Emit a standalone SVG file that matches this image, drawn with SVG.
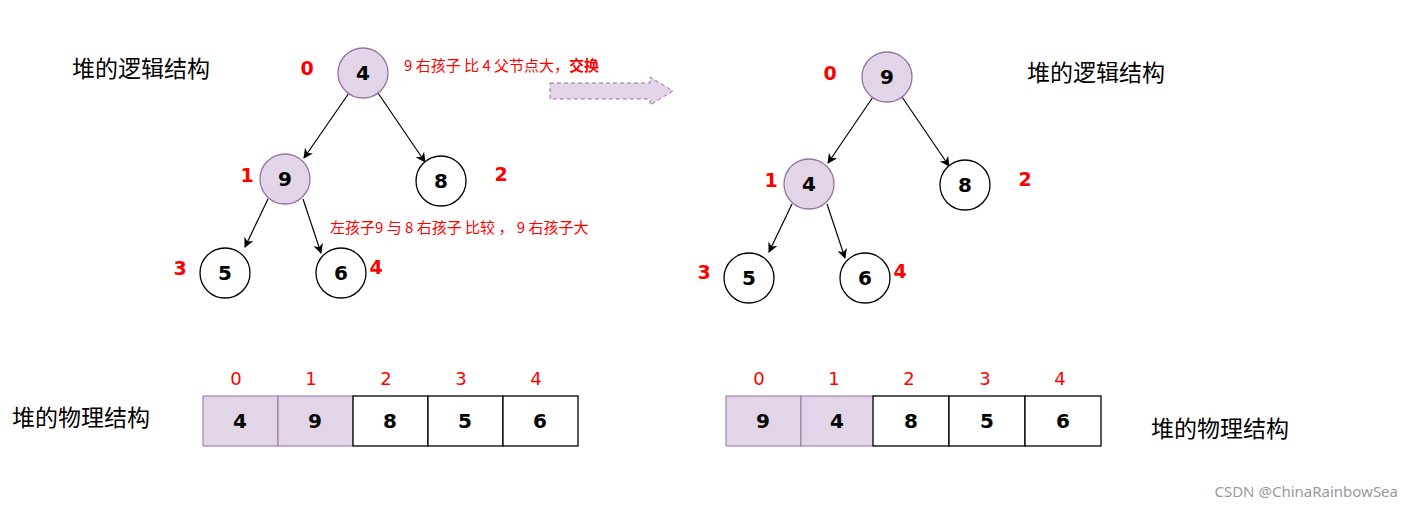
<svg xmlns="http://www.w3.org/2000/svg" width="1413" height="507" viewBox="0 0 1413 507">
<style>
.n{stroke:#000;stroke-width:1.3;fill:#fff}
.p{fill:#e1d5e7;stroke:#9673a6;stroke-width:1.3}
.v{font-family:"Comic Sans MS","DejaVu Sans",sans-serif;font-weight:bold;font-size:20px;text-anchor:middle;dominant-baseline:central;fill:#000}
.i{font-family:"DejaVu Sans",sans-serif;font-weight:bold;font-size:19px;fill:#f00;text-anchor:middle;dominant-baseline:central}
.a{font-family:"DejaVu Sans",sans-serif;font-size:18px;fill:#f00;text-anchor:middle;dominant-baseline:central}
.t{font-family:"Noto Sans CJK SC",sans-serif;font-size:23px;fill:#000}
.r{font-family:"Noto Sans CJK SC","DejaVu Sans",sans-serif;font-size:15px;fill:#f00}
.c{stroke:#000;stroke-width:1.2;fill:none;marker-end:url(#m)}
.cp{fill:#e1d5e7;stroke:#9673a6;stroke-width:1}
.cw{fill:#fff;stroke:#000;stroke-width:1.3}
</style>
<defs><marker id="m" markerWidth="10" markerHeight="10" refX="9" refY="5" orient="auto" markerUnits="userSpaceOnUse"><path d="M0,0 L10,5 L0,10 L3,5z" fill="#000"/></marker></defs>
<text class="t" x="72" y="77">堆的逻辑结构</text>
<text class="t" x="1027" y="81">堆的逻辑结构</text>
<text class="t" x="12" y="426">堆的物理结构</text>
<text class="t" x="1151" y="437">堆的物理结构</text>
<text class="r" x="404" y="71">9 右孩子 比 4 父节点大，<tspan font-weight="bold">交换</tspan></text>
<text class="r" x="330" y="233">左孩子9 与 8 右孩子 比较 ， 9 右孩子大</text>
<path d="M550,83 L650,83 L650,77 L673,91 L650,105 L650,99 L550,99Z" fill="#e1d5e7" stroke="#9673a6" stroke-dasharray="4 3"/>
<g id="connectors">
<line class="c" x1="349" y1="93" x2="304" y2="158"/>
<line class="c" x1="378" y1="93" x2="425" y2="162"/>
<line class="c" x1="268" y1="199" x2="245" y2="247"/>
<line class="c" x1="303" y1="199" x2="321" y2="253"/>
<line class="c" x1="873" y1="97" x2="828" y2="163"/>
<line class="c" x1="902" y1="97" x2="949" y2="166"/>
<line class="c" x1="792" y1="204" x2="769" y2="252"/>
<line class="c" x1="827" y1="204" x2="845" y2="258"/>
</g>
<g id="L0"><circle class="p" cx="363" cy="73" r="25"/><text class="v" x="363" y="73">4</text></g>
<g id="L1"><circle class="p" cx="285" cy="179" r="25"/><text class="v" x="285" y="179">9</text></g>
<g id="L2"><circle class="n" cx="441" cy="181" r="25"/><text class="v" x="441" y="181">8</text></g>
<g id="L3"><circle class="n" cx="225" cy="273" r="25"/><text class="v" x="225" y="273">5</text></g>
<g id="L4"><circle class="n" cx="341" cy="273" r="25"/><text class="v" x="341" y="273">6</text></g>
<g id="R0"><circle class="p" cx="887" cy="77" r="25"/><text class="v" x="887" y="77">9</text></g>
<g id="R1"><circle class="p" cx="809" cy="184" r="25"/><text class="v" x="809" y="184">4</text></g>
<g id="R2"><circle class="n" cx="965" cy="185" r="25"/><text class="v" x="965" y="185">8</text></g>
<g id="R3"><circle class="n" cx="749" cy="278" r="25"/><text class="v" x="749" y="278">5</text></g>
<g id="R4"><circle class="n" cx="865" cy="278" r="25"/><text class="v" x="865" y="278">6</text></g>
<text class="i" x="307" y="68">0</text><text class="i" x="247" y="175">1</text><text class="i" x="501" y="174">2</text><text class="i" x="180" y="268">3</text><text class="i" x="376" y="267">4</text>
<text class="i" x="830" y="73">0</text><text class="i" x="771" y="180">1</text><text class="i" x="1025" y="179">2</text><text class="i" x="704" y="272">3</text><text class="i" x="900" y="271">4</text>
<g id="arrL">
<rect class="cp" x="203" y="396" width="75" height="50"/><rect class="cp" x="278" y="396" width="75" height="50"/>
<rect class="cw" x="353" y="396" width="75" height="50"/><rect class="cw" x="428" y="396" width="75" height="50"/><rect class="cw" x="503" y="396" width="75" height="50"/>
<text class="v" x="240" y="421">4</text><text class="v" x="315" y="421">9</text><text class="v" x="390" y="421">8</text><text class="v" x="465" y="421">5</text><text class="v" x="540" y="421">6</text>
<text class="a" x="236" y="378">0</text><text class="a" x="311" y="378">1</text><text class="a" x="386" y="378">2</text><text class="a" x="461" y="378">3</text><text class="a" x="536" y="378">4</text>
</g>
<g id="arrR">
<rect class="cp" x="726" y="396" width="75" height="50"/><rect class="cp" x="801" y="396" width="75" height="50"/>
<rect class="cw" x="873" y="396" width="76" height="50"/><rect class="cw" x="949" y="396" width="76" height="50"/><rect class="cw" x="1025" y="396" width="76" height="50"/>
<text class="v" x="763" y="421">9</text><text class="v" x="837" y="421">4</text><text class="v" x="911" y="421">8</text><text class="v" x="987" y="421">5</text><text class="v" x="1063" y="421">6</text>
<text class="a" x="759" y="378">0</text><text class="a" x="834" y="378">1</text><text class="a" x="909" y="378">2</text><text class="a" x="985" y="378">3</text><text class="a" x="1060" y="378">4</text>
</g>
<text x="1398" y="497" text-anchor="end" font-family="'Noto Sans',sans-serif" font-size="15" fill="#999">CSDN @ChinaRainbowSea</text>
</svg>
